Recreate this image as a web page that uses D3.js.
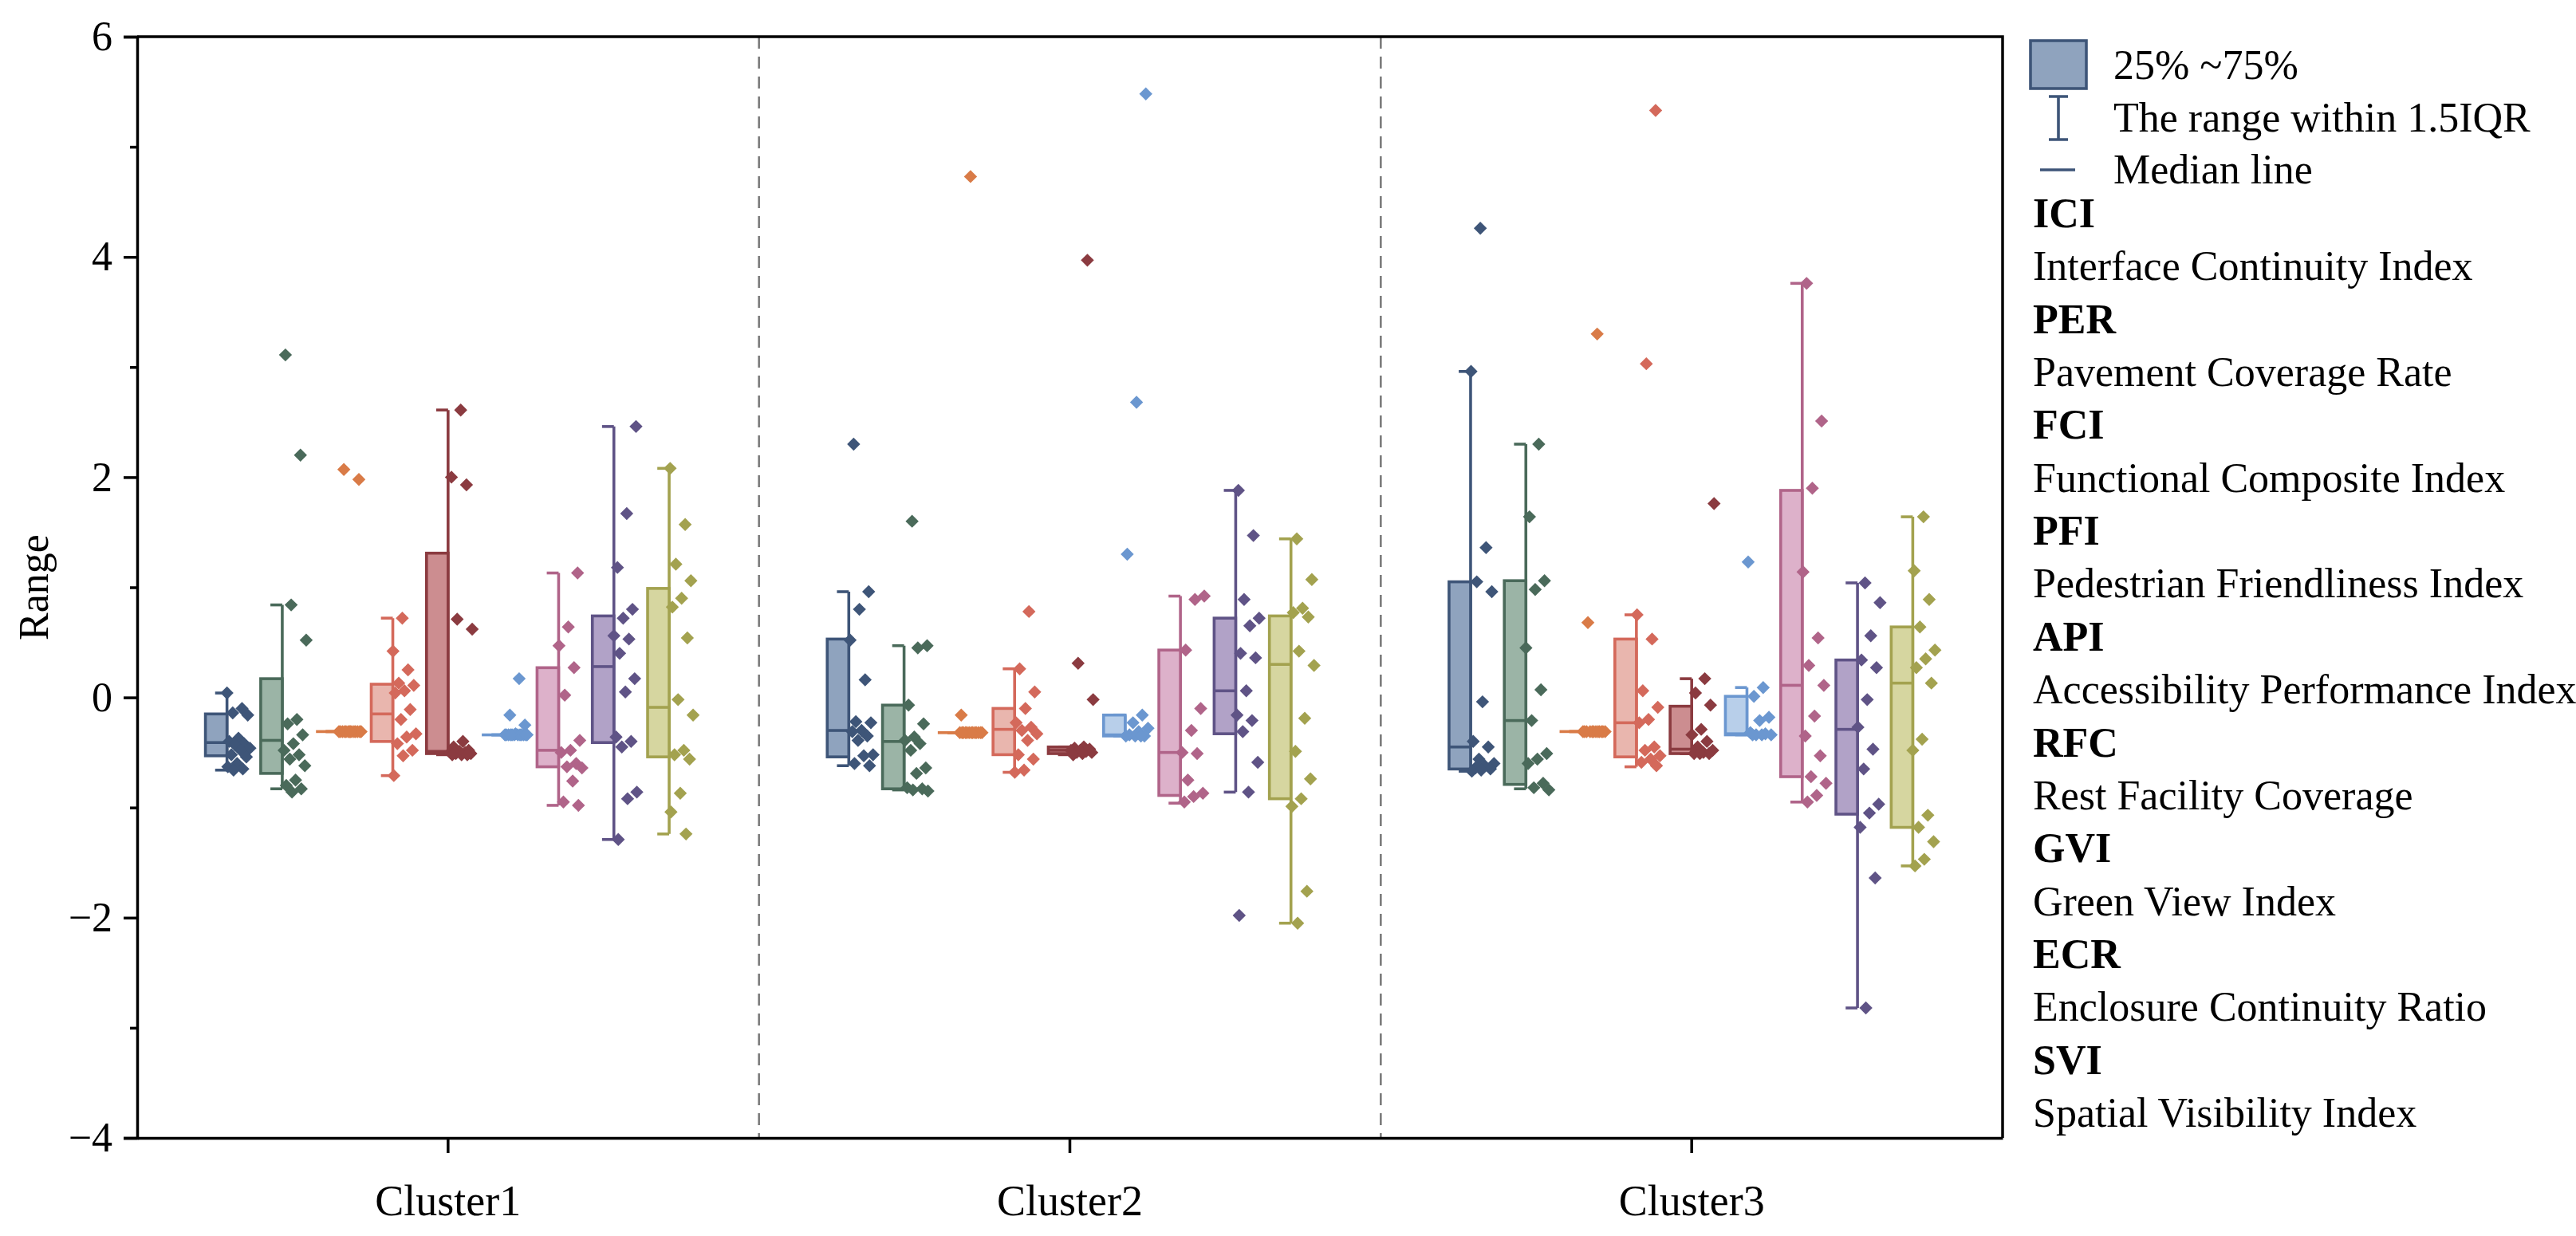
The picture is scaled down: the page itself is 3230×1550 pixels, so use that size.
<!DOCTYPE html>
<html>
<head>
<meta charset="utf-8">
<script src="https://cdn.jsdelivr.net/npm/d3@7"></script>
<style>
  body { margin: 0; background: #fff; }
  text { font-family: "Liberation Serif", "Times New Roman", serif; }
</style>
</head>
<body>
<div id="chart"></div>
<script>
// Categories
const clusters = ["Cluster1", "Cluster2", "Cluster3"];
const indicators = ["ICI", "PER", "FCI", "PFI", "API", "RFC", "GVI", "ECR", "SVI"];
const indicatorNames = [
    "Interface Continuity Index",
    "Pavement Coverage Rate",
    "Functional Composite Index",
    "Pedestrian Friendliness Index",
    "Accessibility Performance Index",
    "Rest Facility Coverage",
    "Green View Index",
    "Enclosure Continuity Ratio",
    "Spatial Visibility Index"
];
const yTicks = [-4, -2, 0, 2, 4, 6];

// Box statistics per indicator: [lower whisker, Q1, median, Q3, upper whisker]
const statsCluster1 = [
    [-0.66, -0.53, -0.41, -0.15, 0.04],
    [-0.83, -0.69, -0.39, 0.17, 0.84],
    [-0.31, -0.31, -0.31, -0.31, -0.31],
    [-0.71, -0.40, -0.15, 0.12, 0.72],
    [-0.52, -0.51, -0.49, 1.31, 2.61],
    [-0.34, -0.34, -0.34, -0.34, -0.34],
    [-0.98, -0.63, -0.48, 0.27, 1.13],
    [-1.29, -0.41, 0.28, 0.74, 2.46],
    [-1.24, -0.54, -0.09, 0.99, 2.08]
];
const statsCluster2 = [
    [-0.62, -0.54, -0.30, 0.53, 0.96],
    [-0.84, -0.83, -0.40, -0.07, 0.47],
    [-0.32, -0.32, -0.32, -0.32, -0.32],
    [-0.68, -0.52, -0.29, -0.10, 0.26],
    [-0.52, -0.51, -0.48, -0.45, -0.45],
    [-0.35, -0.35, -0.34, -0.16, -0.16],
    [-0.96, -0.89, -0.50, 0.43, 0.92],
    [-0.86, -0.33, 0.06, 0.72, 1.88],
    [-2.05, -0.92, 0.30, 0.74, 1.44]
];
const statsCluster3 = [
    [-0.67, -0.65, -0.45, 1.05, 2.96],
    [-0.83, -0.79, -0.21, 1.06, 2.30],
    [-0.31, -0.31, -0.31, -0.31, -0.31],
    [-0.63, -0.54, -0.23, 0.53, 0.75],
    [-0.51, -0.51, -0.47, -0.08, 0.17],
    [-0.34, -0.34, -0.33, 0.01, 0.09],
    [-0.95, -0.72, 0.11, 1.88, 3.76],
    [-2.82, -1.06, -0.29, 0.34, 1.04],
    [-1.53, -1.18, 0.13, 0.64, 1.64]
];

// Raw points per indicator
const pointsCluster1 = [
    [0.04, -0.10, -0.14, -0.16, -0.37, -0.40, -0.42, -0.43, -0.46, -0.48, -0.52, -0.54, -0.60, -0.63, -0.65, -0.66],
    [3.11, 2.20, 0.84, 0.52, -0.20, -0.24, -0.34, -0.42, -0.48, -0.52, -0.56, -0.62, -0.75, -0.80, -0.83, -0.86],
    [2.07, 1.98, -0.31, -0.31, -0.31, -0.31, -0.31, -0.31, -0.31, -0.31, -0.31, -0.31, -0.31, -0.31, -0.31, -0.31],
    [0.72, 0.42, 0.25, 0.13, 0.11, 0.06, 0.04, -0.11, -0.20, -0.33, -0.36, -0.42, -0.48, -0.53, -0.71],
    [2.61, 2.00, 1.93, 0.71, 0.62, -0.40, -0.45, -0.48, -0.49, -0.50, -0.50, -0.51, -0.51, -0.52, -0.52, -0.52],
    [0.17, -0.16, -0.25, -0.33, -0.34, -0.34, -0.34, -0.34, -0.34, -0.34, -0.34, -0.34, -0.34, -0.34, -0.34, -0.34],
    [1.13, 0.64, 0.47, 0.27, 0.02, -0.39, -0.48, -0.50, -0.60, -0.63, -0.64, -0.76, -0.95, -0.98],
    [2.46, 1.67, 1.18, 0.80, 0.72, 0.56, 0.53, 0.40, 0.17, 0.05, -0.36, -0.40, -0.45, -0.86, -0.92, -1.29],
    [2.08, 1.57, 1.21, 1.06, 0.90, 0.82, 0.54, -0.02, -0.16, -0.48, -0.52, -0.56, -0.87, -1.04, -1.24]
];
const pointsCluster2 = [
    [2.30, 0.96, 0.80, 0.52, 0.16, -0.22, -0.23, -0.30, -0.31, -0.35, -0.39, -0.52, -0.53, -0.60, -0.62],
    [1.60, 0.47, 0.45, -0.07, -0.24, -0.36, -0.39, -0.42, -0.48, -0.64, -0.69, -0.82, -0.83, -0.84, -0.85],
    [4.73, -0.16, -0.32, -0.32, -0.32, -0.32, -0.32, -0.32, -0.32, -0.32, -0.32, -0.32, -0.32, -0.32, -0.32],
    [0.78, 0.26, 0.05, -0.10, -0.23, -0.27, -0.30, -0.33, -0.39, -0.52, -0.56, -0.66, -0.68],
    [3.97, 0.31, -0.02, -0.45, -0.46, -0.47, -0.48, -0.48, -0.49, -0.50, -0.50, -0.51, -0.52],
    [5.48, 2.68, 1.30, -0.16, -0.23, -0.28, -0.31, -0.34, -0.35, -0.35, -0.35, -0.35],
    [0.92, 0.89, 0.43, -0.10, -0.30, -0.50, -0.51, -0.75, -0.87, -0.90, -0.95],
    [1.88, 1.47, 0.89, 0.72, 0.65, 0.40, 0.36, 0.06, -0.16, -0.21, -0.31, -0.59, -0.86, -1.98],
    [1.44, 1.07, 0.81, 0.77, 0.73, 0.42, 0.29, -0.19, -0.49, -0.74, -0.92, -0.99, -1.76, -2.05]
];
const pointsCluster3 = [
    [4.26, 2.96, 1.36, 1.05, 0.96, -0.04, -0.40, -0.45, -0.56, -0.60, -0.62, -0.64, -0.65, -0.66, -0.67],
    [2.30, 1.64, 1.06, 0.98, 0.45, 0.07, -0.21, -0.51, -0.56, -0.60, -0.78, -0.82, -0.84],
    [3.30, 0.68, -0.31, -0.31, -0.31, -0.31, -0.31, -0.31, -0.31, -0.31, -0.31, -0.31, -0.31, -0.31],
    [5.33, 3.03, 0.75, 0.53, 0.06, -0.09, -0.20, -0.23, -0.45, -0.48, -0.53, -0.56, -0.59, -0.62],
    [1.76, 0.17, 0.04, -0.07, -0.29, -0.34, -0.40, -0.45, -0.48, -0.50, -0.51, -0.51, -0.51],
    [1.23, 0.09, 0.01, -0.18, -0.21, -0.32, -0.33, -0.34, -0.34, -0.34, -0.34],
    [3.76, 2.51, 1.90, 1.14, 0.54, 0.29, 0.11, -0.17, -0.35, -0.53, -0.72, -0.78, -0.89, -0.95],
    [1.04, 0.86, 0.56, 0.34, 0.27, -0.02, -0.27, -0.47, -0.65, -0.97, -1.05, -1.18, -1.64, -2.82],
    [1.64, 1.15, 0.89, 0.64, 0.43, 0.35, 0.27, 0.13, -0.38, -0.48, -1.07, -1.18, -1.31, -1.47, -1.53]
];

const allStats = [statsCluster1, statsCluster2, statsCluster3];
const allPoints = [pointsCluster1, pointsCluster2, pointsCluster3];

// Colours per indicator
const strokeColors = ["#3e5578", "#4a6a5a", "#d97b47", "#d4695b", "#8b3b40", "#6b97d0", "#b06489", "#5f5386", "#a3a24f"];
const fillColors = ["#8fa3be", "#9bb4a6", "#ecbb9c", "#e9b6ae", "#cc8d90", "#b8cfea", "#ddb1ca", "#b1a2c7", "#d6d6a0"];

// Dimensions
const width = 3230;
const height = 1550;
const margin = { top: 46, right: 719, bottom: 123, left: 172 };
const plotRight = width - margin.right;
const plotBottom = height - margin.bottom;

const svg = d3.select("#chart")
    .append("svg")
    .attr("width", width)
    .attr("height", height)
    .style("background", "#fff");

// Scales
const x0 = d3.scaleBand()
    .domain(clusters)
    .range([margin.left, plotRight])
    .padding(0);

const xi = d3.scaleBand()
    .domain(indicators)
    .range([0, x0.bandwidth()])
    .paddingInner(0)
    .paddingOuter(1.125);

const y = d3.scaleLinear()
    .domain([-4, 6])
    .range([plotBottom, margin.top]);

const boxW = xi.step() * 0.39;
const capW = boxW * 0.55;
const jitterW = xi.step() * 0.44;
const lineW = 3.6;

// Dashed separators between clusters
svg.selectAll(".sep")
    .data(clusters.slice(1))
    .enter()
    .append("line")
    .attr("x1", d => x0(d))
    .attr("x2", d => x0(d))
    .attr("y1", margin.top)
    .attr("y2", plotBottom)
    .attr("stroke", "#777")
    .attr("stroke-width", 2.5)
    .attr("stroke-dasharray", "15,10");

// Draw the boxes
clusters.forEach((cl, ci) => {
    indicators.forEach((ind, ii) => {
        const s = allStats[ci][ii];
        const pts = allPoints[ci][ii];
        const c = x0(cl) + xi(ind) + xi.step() / 2;
        const g = svg.append("g");

        // whisker
        g.append("line")
            .attr("x1", c).attr("x2", c)
            .attr("y1", y(s[0])).attr("y2", y(s[4]))
            .attr("stroke", strokeColors[ii])
            .attr("stroke-width", lineW);
        [s[0], s[4]].forEach(v => {
            g.append("line")
                .attr("x1", c - capW).attr("x2", c)
                .attr("y1", y(v)).attr("y2", y(v))
                .attr("stroke", strokeColors[ii])
                .attr("stroke-width", lineW);
        });

        // box
        g.append("rect")
            .attr("x", c - boxW)
            .attr("y", y(s[3]))
            .attr("width", boxW)
            .attr("height", Math.max(0, y(s[1]) - y(s[3])))
            .attr("fill", fillColors[ii])
            .attr("stroke", strokeColors[ii])
            .attr("stroke-width", lineW);

        // median
        g.append("line")
            .attr("x1", c - boxW).attr("x2", c)
            .attr("y1", y(s[2])).attr("y2", y(s[2]))
            .attr("stroke", strokeColors[ii])
            .attr("stroke-width", lineW);

        // points, spread to the right of the whisker
        g.selectAll("path")
            .data(pts)
            .enter()
            .append("path")
            .attr("d", d3.symbol(d3.symbolSquare, 135))
            .attr("transform", (d, i) => {
                const off = ((i * 0.618034 + ci * 0.2 + ii * 0.13) % 1) * jitterW;
                return `translate(${c + off},${y(d)}) rotate(45)`;
            })
            .attr("fill", strokeColors[ii]);
    });
});

// Axes
const fontSize = 52;

const yAxis = svg.append("g")
    .attr("transform", `translate(${margin.left},0)`)
    .call(d3.axisLeft(y).tickValues(yTicks).tickSize(17).tickPadding(14))
    .attr("font-family", "Liberation Serif, Times New Roman, serif")
    .attr("font-size", fontSize);
yAxis.select(".domain").attr("stroke-width", 3.5);
yAxis.selectAll(".tick line").attr("stroke-width", 3.5);

// Minor ticks
svg.append("g")
    .attr("transform", `translate(${margin.left},0)`)
    .call(d3.axisLeft(y).tickValues([-3, -1, 1, 3, 5]).tickSize(9).tickFormat(""))
    .call(g => g.select(".domain").remove())
    .selectAll(".tick line").attr("stroke-width", 3.5);

const xAxis = svg.append("g")
    .attr("transform", `translate(0,${plotBottom})`)
    .call(d3.axisBottom(x0).tickSize(19).tickSizeOuter(0).tickPadding(40))
    .attr("font-family", "Liberation Serif, Times New Roman, serif")
    .attr("font-size", 54);
xAxis.select(".domain").attr("stroke-width", 3.5);
xAxis.selectAll(".tick line").attr("stroke-width", 3.5);

// Frame top and right
svg.append("path")
    .attr("d", `M${margin.left},${margin.top}H${plotRight}V${plotBottom}`)
    .attr("fill", "none")
    .attr("stroke", "black")
    .attr("stroke-width", 3.5);

// Y label
svg.append("text")
    .attr("transform", `translate(60,${(margin.top + plotBottom) / 2}) rotate(-90)`)
    .attr("text-anchor", "middle")
    .attr("font-size", fontSize)
    .text("Range");

// Legend
const legend = svg.append("g");

legend.append("rect")
    .attr("x", 2546).attr("y", 51)
    .attr("width", 70).attr("height", 60)
    .attr("fill", fillColors[0])
    .attr("stroke", strokeColors[0])
    .attr("stroke-width", lineW);

legend.append("path")
    .attr("d", `M2569,121H2593M2581,121V175M2569,175H2593`)
    .attr("fill", "none")
    .attr("stroke", strokeColors[0])
    .attr("stroke-width", lineW);

legend.append("line")
    .attr("x1", 2558).attr("x2", 2602)
    .attr("y1", 213).attr("y2", 213)
    .attr("stroke", strokeColors[0])
    .attr("stroke-width", lineW);

const legendItems = ["25% ~75%", "The range within 1.5IQR", "Median line"];
legend.selectAll(".litem")
    .data(legendItems)
    .enter()
    .append("text")
    .attr("x", 2650)
    .attr("y", (d, i) => 99 + i * 65.5)
    .attr("font-size", fontSize)
    .text(d => d);

const lineStep = 66.35;
indicators.forEach((ind, i) => {
    legend.append("text")
        .attr("x", 2549)
        .attr("y", 285 + i * 2 * lineStep)
        .attr("font-size", fontSize)
        .attr("font-weight", "bold")
        .text(ind);
    legend.append("text")
        .attr("x", 2549)
        .attr("y", 285 + (i * 2 + 1) * lineStep)
        .attr("font-size", fontSize)
        .text(indicatorNames[i]);
});
</script>
</body>
</html>
